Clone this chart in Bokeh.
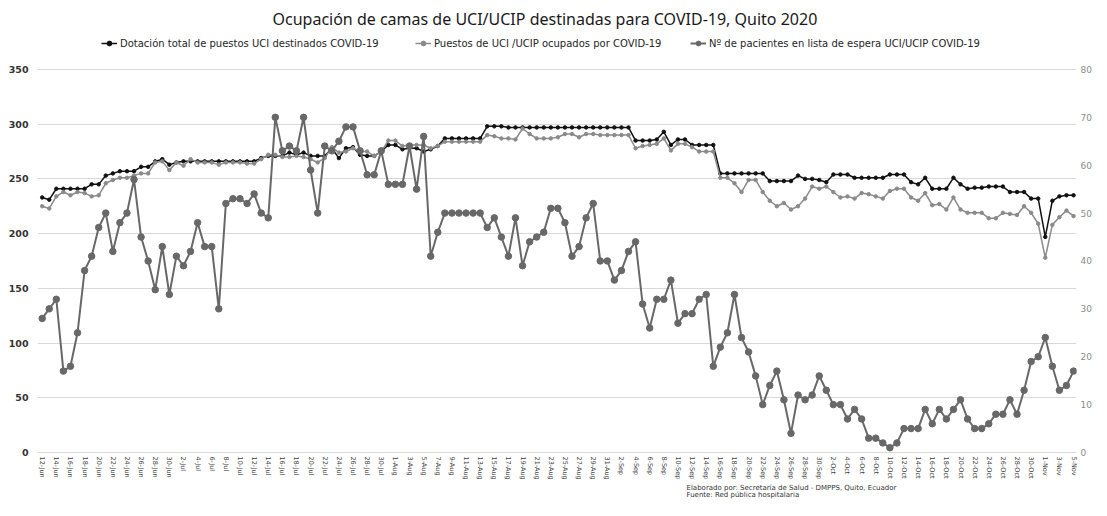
import pandas as pd
from bokeh.plotting import figure
from bokeh.models import (Range1d, LinearAxis, FixedTicker, Legend, LegendItem,
                          Title, ColumnDataSource)
from bokeh.embed import file_html
from bokeh.resources import INLINE

# ---------------- data ----------------
fechas = [f"{d.day}-{d.strftime('%b')}" for d in pd.date_range("2020-06-12", "2020-11-05", freq="D")]

dotacion = [233, 231, 241, 241, 241, 241, 241, 245, 245, 253,
            255, 257, 257, 257, 261, 261, 266, 268, 263, 265,
            266, 266, 266, 266, 266, 266, 266, 266, 266, 266,
            266, 269, 271, 271, 271, 274, 272, 274, 271, 271,
            271, 278, 269, 278, 279, 272, 271, 271, 275, 281,
            281, 277, 278, 278, 275, 277, 280, 287, 287, 287,
            287, 287, 287, 298, 298, 298, 297, 297, 297, 297,
            297, 297, 297, 297, 297, 297, 297, 297, 297, 297,
            297, 297, 297, 297, 285, 285, 285, 286, 293, 281,
            286, 286, 281, 281, 281, 281, 255, 255, 255, 255,
            255, 255, 255, 248, 248, 248, 248, 253, 250, 250,
            249, 247, 254, 254, 254, 251, 251, 251, 251, 251,
            254, 254, 254, 247, 245, 251, 241, 241, 241, 251,
            245, 241, 242, 242, 243, 243, 243, 238, 238, 238,
            232, 232, 197, 230, 234, 235, 235]

ocupados = [225, 223, 234, 238, 235, 238, 237, 234, 235, 246,
            249, 251, 251, 253, 255, 255, 265, 266, 258, 265,
            262, 268, 265, 265, 265, 263, 265, 265, 265, 264,
            264, 268, 272, 272, 270, 270, 271, 270, 268, 265,
            269, 279, 274, 275, 278, 275, 275, 271, 275, 285,
            285, 280, 281, 281, 281, 278, 280, 284, 284, 284,
            284, 284, 284, 290, 289, 287, 287, 286, 296, 291,
            287, 287, 287, 288, 291, 291, 288, 291, 291, 290,
            290, 290, 290, 290, 278, 280, 281, 282, 287, 276,
            282, 282, 279, 275, 275, 275, 251, 251, 246, 238,
            249, 249, 238, 230, 225, 228, 222, 225, 232, 243,
            241, 243, 238, 233, 234, 232, 237, 236, 234, 232,
            239, 241, 241, 233, 230, 237, 226, 227, 222, 233,
            222, 219, 219, 219, 214, 214, 219, 218, 217, 225,
            219, 209, 178, 208, 215, 221, 216]

espera = [28, 30, 32, 17, 18, 25, 38, 41, 47, 50,
          42, 48, 50, 57, 45, 40, 34, 43, 33, 41,
          39, 42, 48, 43, 43, 30, 52, 53, 53, 52,
          54, 50, 49, 70, 63, 64, 63, 70, 59, 50,
          64, 63, 65, 68, 68, 63, 58, 58, 63, 56,
          56, 56, 64, 55, 66, 41, 46, 50, 50, 50,
          50, 50, 50, 47, 49, 45, 41, 49, 39, 44,
          45, 46, 51, 51, 48, 41, 43, 49, 52, 40,
          40, 36, 38, 42, 44, 31, 26, 32, 32, 36,
          27, 29, 29, 32, 33, 18, 22, 25, 33, 24,
          21, 16, 10, 14, 17, 11, 4, 12, 11, 12,
          16, 13, 10, 10, 7, 9, 7, 3, 3, 2,
          1, 2, 5, 5, 5, 9, 6, 9, 7, 9,
          11, 7, 5, 5, 6, 8, 8, 11, 8, 13,
          19, 20, 24, 18, 13, 14, 17]

left_ticks = [0, 50, 100, 150, 200, 250, 300, 350]
right_ticks = [0, 10, 20, 30, 40, 50, 60, 70, 80]

titulo = "Ocupación de camas de UCI/UCIP destinadas para COVID-19, Quito 2020"
serie_nombres = ["Dotación total de puestos UCI destinados COVID-19",
                 "Puestos de UCI /UCIP ocupados por COVID-19",
                 "Nº de pacientes en lista de espera UCI/UCIP COVID-19"]
nota1 = "Elaborado por: Secretaría de Salud - DMPPS, Quito, Ecuador"
nota2 = "Fuente: Red pública hospitalaria"

# ---------------- figure ----------------
idx = list(range(len(fechas)))
src = ColumnDataSource(dict(x=idx, dot=dotacion, ocu=ocupados, esp=espera))

Y_TOP = 381.0
p = figure(frame_width=1039, frame_height=417,
           x_range=Range1d(-0.665, 146.42), y_range=Range1d(0, Y_TOP),
           output_backend="svg", toolbar_location=None,
           min_border_left=37, min_border_right=15,
           min_border_top=32, min_border_bottom=47)
p.extra_y_ranges = {"right": Range1d(0, Y_TOP * 80 / 350)}
p.outline_line_color = None
p.background_fill_color = "white"

p.title.text = titulo
p.title.align = "left"
p.title.offset = 235
p.title.text_font = "Noto Sans"
p.title.text_font_size = "16px"
p.title.text_font_style = "normal"
p.title.text_color = "#1a1a1a"
p.title.standoff = 11

# grid
p.xgrid.visible = False
p.ygrid.ticker = FixedTicker(ticks=left_ticks)
p.ygrid.grid_line_color = "#d9d9d9"
p.ygrid.grid_line_width = 1

# left axis
ya = p.yaxis[0]
ya.ticker = FixedTicker(ticks=left_ticks)
ya.axis_line_color = None
ya.major_tick_line_color = None
ya.minor_tick_line_color = None
ya.major_tick_out = 0
ya.minor_tick_out = 0
ya.major_label_standoff = 9
ya.major_label_text_font = "DejaVu Sans"
ya.major_label_text_font_size = "9.5px"
ya.major_label_text_font_style = "bold"
ya.major_label_text_color = "#333333"

# right axis
ra = LinearAxis(y_range_name="right", ticker=FixedTicker(ticks=right_ticks))
ra.axis_line_color = None
ra.major_tick_line_color = None
ra.minor_tick_line_color = None
ra.major_tick_out = 0
ra.minor_tick_out = 0
ra.major_label_standoff = 4
ra.major_label_text_font = "DejaVu Sans"
ra.major_label_text_font_size = "9px"
ra.major_label_text_color = "#8c8c8c"
p.add_layout(ra, "right")

# x axis
xa = p.xaxis[0]
xa.ticker = FixedTicker(ticks=idx[::2])
xa.major_label_overrides = {i: fechas[i] for i in idx[::2]}
xa.major_label_orientation = "vertical"
xa.axis_line_color = "#d9d9d9"
xa.major_tick_line_color = None
xa.minor_tick_line_color = None
xa.major_tick_out = 0
xa.minor_tick_out = 0
xa.major_label_standoff = 4
xa.major_label_text_font = "DejaVu Sans"
xa.major_label_text_font_size = "6.5px"
xa.major_label_text_color = "#404040"

# series
c_dot, c_ocu, c_esp = "#111111", "#8a8a8a", "#686868"
l1 = p.line("x", "dot", source=src, line_color=c_dot, line_width=1.5)
s1 = p.scatter("x", "dot", source=src, size=3.5, color=c_dot)
l2 = p.line("x", "ocu", source=src, line_color=c_ocu, line_width=1.5)
s2 = p.scatter("x", "ocu", source=src, size=3.5, color=c_ocu)
l3 = p.line("x", "esp", source=src, line_color=c_esp, line_width=2, y_range_name="right")
s3 = p.scatter("x", "esp", source=src, size=6.5, color=c_esp, y_range_name="right")

# legends (one per entry, positioned like the original)
for (rends, name, xpos) in [([l1, s1], serie_nombres[0], 62),
                            ([l2, s2], serie_nombres[1], 376),
                            ([l3, s3], serie_nombres[2], 651)]:
    lg = Legend(items=[LegendItem(label=name, renderers=rends)],
                location=(xpos, 401), orientation="horizontal",
                glyph_width=16, glyph_height=12, label_height=12,
                label_standoff=3, padding=2, margin=0, spacing=0,
                background_fill_alpha=0, border_line_alpha=0,
                label_text_font="DejaVu Sans", label_text_font_size="10px",
                label_text_color="#262626")
    p.add_layout(lg, "center")

# footer notes
for t, so in [(nota1, -1), (nota2, -6)]:
    p.add_layout(Title(text=t, align="left", offset=649, text_font="DejaVu Sans",
                       text_font_size="7px", text_font_style="normal",
                       text_color="#333333", standoff=so), "below")

open("out.html", "w").write(file_html(p, INLINE))
